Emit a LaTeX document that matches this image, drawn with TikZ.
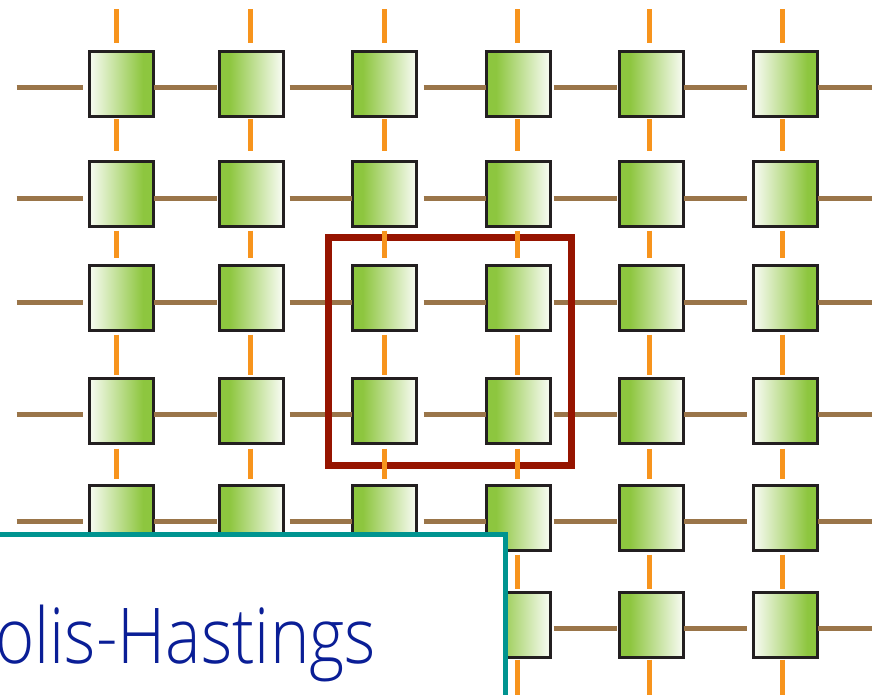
\documentclass[tikz,border=0pt]{standalone}
\usepackage{fontspec}
\IfFontExistsTF{Open Sans Light}
  {\newfontfamily\titlefont{Open Sans Light}[FakeStretch=0.87]}
  {\newfontfamily\titlefont{Open Sans}[FakeStretch=0.87]}

\definecolor{leaf}{RGB}{141,198,63}
\definecolor{pale}{RGB}{244,249,236}
\definecolor{edgeink}{RGB}{35,31,32}
\definecolor{bark}{RGB}{154,117,73}
\definecolor{amber}{RGB}{247,148,29}
\definecolor{framered}{RGB}{150,20,0}
\definecolor{boxteal}{RGB}{0,148,144}
\definecolor{titleink}{RGB}{10,30,150}

% green on the left fading to white, and the mirror image
\pgfdeclarehorizontalshading{greenfade}{100bp}{color(0bp)=(leaf); color(33bp)=(leaf); color(73bp)=(pale); color(100bp)=(pale)}
\pgfdeclarehorizontalshading{fadegreen}{100bp}{color(0bp)=(pale); color(27bp)=(pale); color(67bp)=(leaf); color(100bp)=(leaf)}

\tikzset{
  cell/.style={draw=edgeink, line width=3pt, minimum width=64pt, minimum height=65pt, inner sep=0pt},
  leafcell/.style={cell, shading=greenfade},
  fadecell/.style={cell, shading=fadegreen},
  brownbar/.style={draw=bark, line width=5pt},
  amberbar/.style={draw=amber, line width=5pt},
  window/.style={draw=framered, line width=7pt},
  panel/.style={draw=boxteal, line width=5.5pt, fill=white},
}

\begin{document}
\begin{tikzpicture}[x=1pt, y=-1pt]
\useasboundingbox (0,0) rectangle (872,695);
\clip (0,0) rectangle (872,695);

% lattice of cells
\foreach \y [count=\r] in {84,194,298,410.5,517.5,624.5} {
  \foreach \x/\sty [count=\c] in {121/fadecell,251/leafcell,384.5/leafcell,518/leafcell,651.5/leafcell,785.5/fadecell} {
    \node[\sty] (s\r\c) at (\x,\y) {};
  }
}

% horizontal couplings
\foreach \r in {1,...,6} {
  \coordinate (hl\r) at ([shift={(-71,4)}]s\r1.west);
  \coordinate (hr\r) at ([shift={(63,4)}]s\r6.east);
  \draw[brownbar] (hl\r) -- ([shift={(-5,4)}]s\r1.west);
  \foreach \a/\b/\p/\q in {1/2/-1/-1, 2/3/5/0.5, 3/4/5.5/1, 4/5/2/-1.5, 5/6/-1.5/-5.5}
    \draw[brownbar] ([shift={(\p,4)}]s\r\a.east) -- ([shift={(\q,4)}]s\r\b.west);
  \draw[brownbar] ([shift={(-1.5,4)}]s\r6.east) -- (hr\r);
}

% highlighted block
\draw[window] (328.5,237) rectangle (571.5,465.5);

% vertical couplings
\foreach \c/\dx in {1/-5,2/-1,3/-0.5,4/-0.5,5/-2,6/-3.5} {
  \coordinate (vt\c) at ([shift={(\dx,-40.5)}]s1\c.north);
  \coordinate (vb\c) at ([shift={(\dx,36)}]s6\c.south);
  \draw[amberbar] (vt\c) -- ([shift={(\dx,-6.5)}]s1\c.north);
  \foreach \a/\b/\p/\q in {1/2/1.5/-8.5, 2/3/2.5/-6.5, 3/4/2.5/-2, 4/5/4/-5, 5/6/3/-2}
    \draw[amberbar] ([shift={(\dx,\p)}]s\a\c.south) -- ([shift={(\dx,\q)}]s\b\c.north);
  \draw[amberbar] ([shift={(\dx,1)}]s6\c.south) -- (vb\c);
}

% caption panel
\draw[panel] (-20,534.5) rectangle (505.5,730);
\node[anchor=base east, inner sep=0pt, text=titleink, font=\titlefont\fontsize{77}{77}\selectfont] (title) at (376,663) {Metropolis-Hastings};
\end{tikzpicture}
\end{document}
